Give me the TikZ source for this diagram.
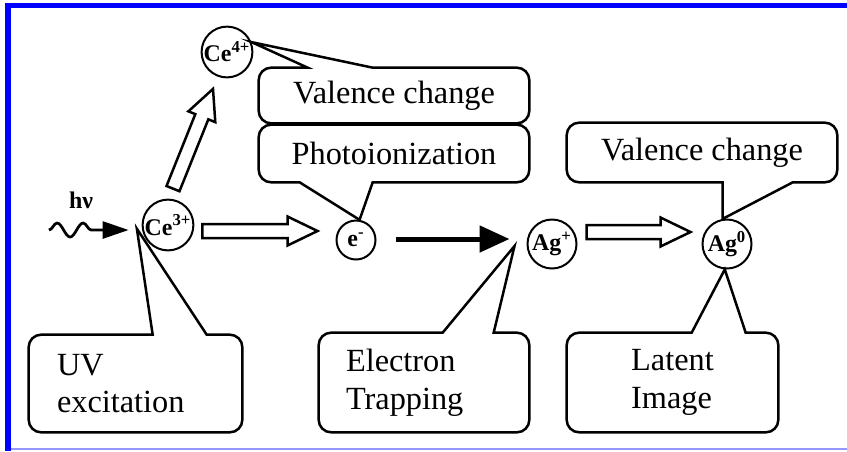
\documentclass[tikz,border=0pt]{standalone}
\usepackage{fontspec}
\setmainfont{Liberation Serif}
\usepackage{tikz}
\usetikzlibrary{calc,arrows.meta,positioning,decorations.pathmorphing}
\definecolor{frameblue}{RGB}{0,0,255}
\definecolor{framelight}{RGB}{150,150,255}
\newcommand\ionfont{\fontsize{13.6}{15}\selectfont\bfseries}
\newcommand\callfont{\fontsize{18.4}{21.5}\selectfont}
\tikzset{
  ion/.style={circle, draw, line width=0.04cm, minimum size=0.98cm,
              inner sep=0pt, font=\ionfont},
  smallion/.style={ion, minimum size=0.78cm},
  calltext/.style={inner sep=0pt, font=\callfont},
  callout/.style={line width=0.05cm, line join=miter},
  blockarrow/.style={line width=0.05cm, fill=white, line join=miter,
    to path={($(\tikztotarget)!0.6cm!(\tikztostart)$) coordinate (bh)
      ($(\tikztostart)!0.14cm!90:(\tikztotarget)$)
      -- ($(bh)!0.14cm!90:(\tikztotarget)$) -- ($(bh)!0.29cm!90:(\tikztotarget)$)
      -- (\tikztotarget)
      -- ($(bh)!0.29cm!-90:(\tikztotarget)$) -- ($(bh)!0.14cm!-90:(\tikztotarget)$)
      -- ($(\tikztostart)!0.14cm!-90:(\tikztotarget)$) -- cycle}},
  solidarr/.style={line width=0.1cm, -{Triangle[length=0.6cm, width=0.52cm]}},
  photon/.style={line width=0.055cm, decorate,
                 decoration={snake, segment length=0.52cm, amplitude=0.14cm, post length=0.6cm},
                 -{Triangle[length=0.52cm, width=0.34cm]}},
}
\begin{document}
\begin{tikzpicture}[x=0.02cm, y=-0.02cm]
    \useasboundingbox (0,0) rectangle (847,451);
    % frame
    \fill[frameblue] (5,3) rectangle (847,8);
    \fill[frameblue] (5,3) rectangle (11,451);
    \fill[framelight] (11,448) rectangle (847,450);
    % ions
    \node[ion] (ce4) at (227,52)  {Ce\textsuperscript{4+}};
    \node[ion] (ce3) at (168,225) {Ce\textsuperscript{3+}};
    \node[smallion] (em) at (356,240) {e\textsuperscript{-}};
    \node[ion] (agp) at (552,244) {Ag\textsuperscript{+}};
    \node[ion] (ag0) at (727,244) {Ag\textsuperscript{0}};
    \node[font=\ionfont] (hv) at (81,200) {hν};
    \coordinate (hvtail) at (49,230);
    % callout texts
    \node[calltext, minimum width=5.4cm, minimum height=1.1cm] (vc1) at (394,95.5) {Valence change};
    \node[calltext, minimum width=5.4cm, minimum height=1.14cm] (pi) at (394,153.5) {Photoionization};
    \node[calltext, minimum width=5.4cm, minimum height=1.18cm] (vc2) at (702,152.5) {Valence change};
    \node[calltext, text width=3.14cm, inner xsep=0.56cm, minimum height=1.94cm, align=left] (uv) at (135.5,383.5) {UV\\excitation};
    \node[calltext, text width=3.12cm, inner xsep=0.54cm, minimum height=1.98cm, align=left] (et) at (424,382.5) {Electron\\Trapping};
    \node[calltext, minimum width=4.22cm, minimum height=1.98cm, align=left] (li) at (672.5,382.5) {Latent\\Image};
    % callout outlines
    \draw[callout] ($(vc1.north west)+(49,0)$) [rounded corners=0.25cm] -- (vc1.north west)
        -- (vc1.south west) -- (vc1.south east) -- (vc1.north east) [sharp corners]
        -- ($(vc1.north west)+(114,0)$) -- (ce4.22) -- cycle;
    \draw[callout] ($(pi.south west)+(41,0)$) [rounded corners=0.25cm] -- (pi.south west)
        -- (pi.north west) -- (pi.north east) -- (pi.south east) [sharp corners]
        -- ($(pi.south west)+(114,0)$) -- (em.80) -- cycle;
    \draw[callout] ($(vc2.south west)+(156,0)$) [rounded corners=0.25cm] -- (vc2.south west)
        -- (vc2.north west) -- (vc2.north east) -- (vc2.south east) [sharp corners]
        -- ($(vc2.south west)+(226,0)$) -- (ag0.100) -- cycle;
    \draw[callout] ($(uv.north west)+(124,0)$) [rounded corners=0.25cm] -- (uv.north west)
        -- (uv.south west) -- (uv.south east) -- (uv.north east) [sharp corners]
        -- ($(uv.north west)+(178,0)$) -- ($(ce3.188)+(-5,0)$) -- cycle;
    \draw[callout] ($(et.north west)+(124,0)$) [rounded corners=0.25cm] -- (et.north west)
        -- (et.south west) -- (et.south east) -- (et.north east) [sharp corners]
        -- ($(et.north west)+(175,0)$) -- ($(agp.west)+(-12,2)$) -- cycle;
    \draw[callout] ($(li.north west)+(125,0)$) [rounded corners=0.25cm] -- (li.north west)
        -- (li.south west) -- (li.south east) -- (li.north east) [sharp corners]
        -- ($(li.north west)+(179,0)$) -- (ag0.265) -- cycle;
    % arrows
    \coordinate (up1) at ($(ce3.north)+(5,-10)$);
    \coordinate (up2) at ($(ce4.south)+(-14,10.5)$);
    \coordinate (ion1) at ($(ce3.east)+(8,6)$);
    \coordinate (ion2) at ($(em.west)+(-18,-9)$);
    \coordinate (red1) at ($(agp.east)+(9,-12)$);
    \coordinate (red2) at ($(ag0.west)+(-11,-12)$);
    \draw[photon] (hvtail) -- ($(ce3.west)+(-13,5)$);
    \draw[blockarrow] (up1) to (up2);
    \draw[blockarrow] (ion1) to (ion2);
    \draw[solidarr] ($(em.east)+(19,-1)$) -- ($(agp.west)+(-17,-5)$);
    \draw[blockarrow] (red1) to (red2);
\end{tikzpicture}
\end{document}
